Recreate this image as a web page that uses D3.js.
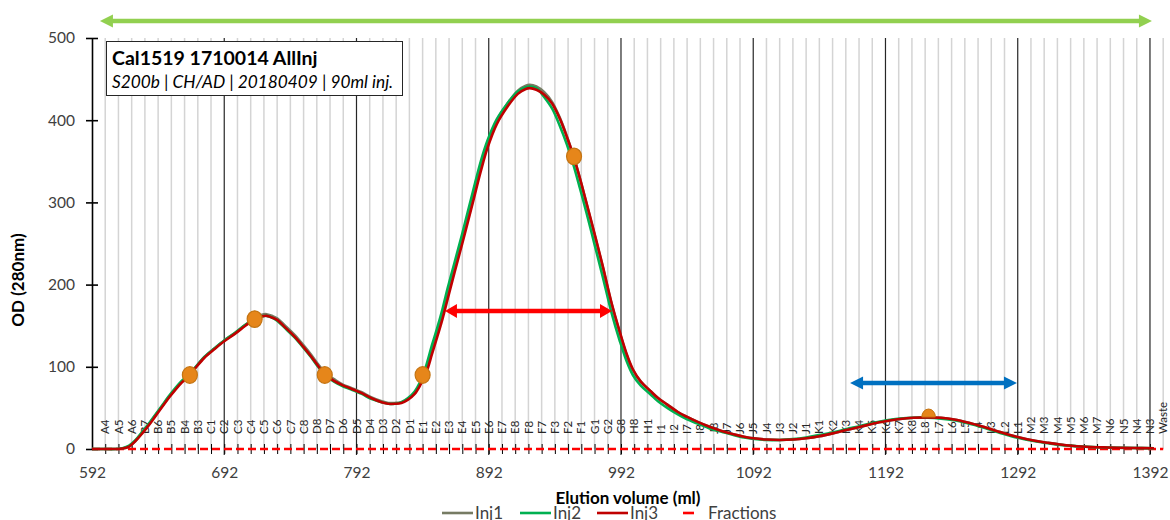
<!DOCTYPE html>
<html>
<head>
<meta charset="utf-8">
<script src="https://cdn.jsdelivr.net/npm/d3@7"></script>
<style>
  html, body { margin: 0; padding: 0; background: #fff; }
  svg { display: block; font-family: Lato, "Open Sans", sans-serif; }
</style>
</head>
<body>
<svg id="chart" width="1170" height="520"></svg>
<script>
// ---- data -------------------------------------------------------------
const titleMain = "Cal1519 1710014 AllInj";
const titleSub = "S200b | CH/AD | 20180409 | 90ml inj.";

const xTicks = [592, 692, 792, 892, 992, 1092, 1192, 1292, 1392];
const yTicks = [0, 100, 200, 300, 400, 500];

// collected fractions, 10 ml each, first one centred at 602 ml
const fractionLabels = ["A4","A5","A6","B7","B6","B5","B4","B3","C1","C2","C3","C4","C5","C6","C7","C8",
  "D8","D7","D6","D5","D4","D3","D2","D1","E1","E2","E3","E4","E5","E6","E7","E8",
  "F8","F7","F3","F2","F1","G1","G2","G8","H8","H1","I1","I2","I7","I8",
  "J8","J7","J6","J5","J4","J3","J2","J1","K1","K2","K3","K4","K5","K6","K7","K8",
  "L8","L7","L6","L5","L4","L3","L2","L1","M2","M3","M4","M5","M6","M7","N6","N5","N4","N3","Waste"];
const fractionFirst = 602;
const fractionSize = 10;

// elution volume (ml) of the sampled trace points
const volume = [592,600,610,615,620,625,630,635,640,645,650,655,660,666,670,677,685,692,700,708,715,720,724,728,732,738,745,752,758,763,768,775,781,790,796,803,811,816,821,826,831,836,840,845,849,853,857,861,866,872,880,886,891,898,906,914,920,923,928,934,940,946,951,956,961,966,972,978,985,991,996,1001,1007,1014,1020,1027,1035,1042,1050,1059,1068,1077,1085,1092,1102,1112,1122,1132,1142,1152,1162,1173,1183,1193,1203,1213,1224,1234,1244,1255,1266,1280,1291,1305,1315,1324,1340,1360,1380,1395];

const inj1 = [0,0,0,0.5,3,10,20,30,41,52,63,73,82,91,99,112,123,132,141,151,159,163,164,162,159,150,139,126,114,103,93,85,79,73,69,63,58,56,56,57,61,68,79,97,119,140,162,188,219,255,306,344,371,399,420,436,442,443,441,434,422,402,381,357,329,298,261,223,176,142,116,96,82,71,62,54,45,39,33,27,22,18,15,13,11.5,11,11.5,13,15.5,19,23,27,31,34,36.5,38,38.5,38,36,32,27,20,15,10,7.5,5.5,3,1.8,1.2,1];

const inj2 = [0,0,0,1,4,11,21,31,42,53,64,74,83,92,99,112,123,132,141,151,158,161,162,160,156,147,136,123,111,100,90,82,77,71,67,61,57,55,55,57,62,70,81,103,126,147,170,196,226,262,313,350,375,401,420,435,440,441,439,428,414,392,371,346,317,287,249,211,165,132,108,90,77,67,58,50,42,36,31,25,21,17,14,12.5,11,11,12,14,17,20,24,28,32,35,37,38,38,37,35,31,26,19,14,9.5,7,5,3,1.8,1.2,1];

const inj3 = [0,0,0,0.5,3,10,19,29,40,51,62,72,81,90,98,111,122,131,140,150,158,161,162,160,157,148,137,124,112,101,91,83,78,72,68,62,57,55,55,56,60,67,77,94,115,136,158,183,214,250,300,338,366,395,416,432,438,439,437,431,420,401,380,357,329,299,262,224,177,143,117,97,82,71,62,54,45,39,33,27,22,18,15,13,11.5,11,11.5,13,15.5,19,23,27,31,34,36.5,38,38.5,38,36,32,27,20,15,10,7.5,5.5,3,1.8,1.2,1];

const seriesNames = ["Inj1", "Inj2", "Inj3"];

// highlighted sample points [volume, OD]
const highlightVolume = [666, 715, 768, 842, 956.5, 1224.6];
const highlightOD = [90, 158, 90, 90, 356, 38.9];

// pooling ranges: [from ml, to ml, drawn at OD]
const poolAll = [598, 1393.5, 520.7];
const poolMain = [858.9, 985.2, 167.9];
const poolLate = [1165.2, 1291.4, 80.3];

// ---- layout & style ---------------------------------------------------
const seriesColors = ["#767b63", "#00b050", "#c00000"];
const fracColor = "#ff0000";
const textColor = "#404040";

const svg = d3.select("#chart");
const x = d3.scaleLinear().domain([592, 1402]).range([92, 1163.2]);
const y = d3.scaleLinear().domain([0, 500]).range([449, 38]);

// vertical grid: each fraction boundary light, every 100 ml dark
const grid = svg.append("g");
const fracCentres = fractionLabels.map((_, i) => fractionFirst + i * fractionSize);
grid.selectAll("line.minor")
  .data(fracCentres.filter(v => !xTicks.includes(v)))
  .join("line")
  .attr("x1", d => x(d)).attr("x2", d => x(d))
  .attr("y1", y(500)).attr("y2", y(0))
  .attr("stroke", "#d4d4d4").attr("stroke-width", 1.5);
grid.selectAll("line.major")
  .data(xTicks.slice(1))
  .join("line")
  .attr("x1", d => x(d)).attr("x2", d => x(d))
  .attr("y1", y(500)).attr("y2", y(0) + 6)
  .attr("stroke", "#262626").attr("stroke-width", 1.2);

// fraction labels (rotated)
svg.append("g").selectAll("text")
  .data(fractionLabels)
  .join("text")
  .attr("transform", (d, i) => `translate(${x(fracCentres[i])},434) rotate(-90)`)
  .attr("dy", "0.36em")
  .attr("font-size", 11.5)
  .attr("fill", "#262626")
  .text(d => d);

// y axis
const yAxis = svg.append("g")
  .attr("transform", `translate(${x(592)},0)`)
  .call(d3.axisLeft(y).tickValues(yTicks).tickSize(6).tickSizeOuter(0).tickPadding(11));
yAxis.select(".domain").attr("stroke", "#000").attr("stroke-width", 1.6);
yAxis.selectAll(".tick line").attr("x1", -6).attr("x2", 6).attr("stroke", "#000").attr("stroke-width", 1.6);
yAxis.selectAll(".tick text").attr("font-size", 15.5).attr("fill", textColor).attr("font-family", "Lato");

// x axis: cross ticks at each fraction boundary, labels every 100 ml
const xMinor = svg.append("g")
  .attr("transform", `translate(0,${y(0)})`)
  .call(d3.axisBottom(x).tickValues(fracCentres.filter(v => v <= 1392)).tickSize(5).tickFormat(""));
xMinor.select(".domain").remove();
xMinor.selectAll(".tick line").attr("y1", -5).attr("y2", 5).attr("stroke", "#000").attr("stroke-width", 1);

const xAxis = svg.append("g")
  .attr("transform", `translate(0,${y(0)})`)
  .call(d3.axisBottom(x).tickValues(xTicks).tickSize(0).tickPadding(18).tickFormat(d3.format("d")));
xAxis.select(".domain").remove();
xAxis.selectAll(".tick text").attr("font-size", 15.5).attr("fill", textColor).attr("font-family", "Lato");

// fractions series along the baseline
svg.append("line")
  .attr("x1", x(592)).attr("x2", x(1402))
  .attr("y1", y(0)).attr("y2", y(0))
  .attr("stroke", fracColor).attr("stroke-width", 2.5)
  .attr("stroke-dasharray", "8,4");

// traces
const line = d3.line()
  .x((d, i) => x(volume[i]))
  .y(d => y(d))
  .curve(d3.curveCatmullRom.alpha(0.5));
[inj1, inj2, inj3].forEach((s, k) => {
  svg.append("path")
    .attr("d", line(s))
    .attr("fill", "none")
    .attr("stroke", seriesColors[k])
    .attr("stroke-width", 2.6)
    .attr("stroke-linejoin", "round");
});

// highlighted points
const marks = svg.append("g");
highlightVolume.forEach((v, i) => {
  const cx = x(v), cy = y(highlightOD[i]);
  if (i === highlightVolume.length - 1) {
    // last one only shows its upper half above the trace
    marks.append("path")
      .attr("d", `M${cx - 6.8},${cy} A6.8,8 0 0 1 ${cx + 6.8},${cy} Z`)
      .attr("fill", "#e6861a").attr("stroke", "#c47412").attr("stroke-width", 1);
  } else {
    marks.append("ellipse")
      .attr("cx", cx).attr("cy", cy).attr("rx", 7.5).attr("ry", 8.3)
      .attr("fill", "#e6861a").attr("stroke", "#c47412").attr("stroke-width", 1.2);
  }
});

// double-headed range arrows
function rangeArrow(span, color, width, headLen, headHalf) {
  const x1 = x(span[0]), x2 = x(span[1]), yy = y(span[2]);
  const g = svg.append("g");
  g.append("line")
    .attr("x1", x1 + headLen - 1).attr("x2", x2 - headLen + 1)
    .attr("y1", yy).attr("y2", yy)
    .attr("stroke", color).attr("stroke-width", width);
  g.append("path")
    .attr("d", `M${x1},${yy} L${x1 + headLen},${yy - headHalf} L${x1 + headLen},${yy + headHalf} Z`)
    .attr("fill", color);
  g.append("path")
    .attr("d", `M${x2},${yy} L${x2 - headLen},${yy - headHalf} L${x2 - headLen},${yy + headHalf} Z`)
    .attr("fill", color);
}
rangeArrow(poolAll, "#92d050", 4.5, 13, 6.5);
rangeArrow(poolMain, "#ff0000", 4.5, 12, 7);
rangeArrow(poolLate, "#0070c0", 4.5, 13, 6.5);

// title box
const tb = svg.append("g");
tb.append("rect").attr("x", 106.5).attr("y", 41.5).attr("width", 296).attr("height", 54)
  .attr("fill", "#fff").attr("stroke", "#262626").attr("stroke-width", 1);
tb.append("text").attr("x", 112).attr("y", 65)
  .attr("font-size", 19.5).attr("font-weight", "bold").attr("fill", "#000")
  .text(titleMain);
tb.append("text").attr("x", 112).attr("y", 88)
  .attr("font-size", 17.3).attr("font-style", "italic").attr("fill", "#000")
  .text(titleSub);

// axis titles
svg.append("text")
  .attr("transform", "translate(18,280) rotate(-90)")
  .attr("text-anchor", "middle").attr("dy", "0.36em")
  .attr("font-size", 17).attr("font-weight", "bold").attr("fill", "#000")
  .text("OD (280nm)");
svg.append("text")
  .attr("x", 628).attr("y", 504)
  .attr("text-anchor", "middle")
  .attr("font-size", 17).attr("font-weight", "bold").attr("fill", "#000")
  .text("Elution volume (ml)");

// legend
const legend = svg.append("g");
const legendX = [442, 520, 597];
seriesNames.forEach((name, i) => {
  legend.append("line")
    .attr("x1", legendX[i]).attr("x2", legendX[i] + 31)
    .attr("y1", 513).attr("y2", 513)
    .attr("stroke", seriesColors[i]).attr("stroke-width", 2.6);
  legend.append("text")
    .attr("x", legendX[i] + 33).attr("y", 519)
    .attr("font-size", 17).attr("fill", textColor)
    .text(name);
});
legend.append("line")
  .attr("x1", 683).attr("x2", 694).attr("y1", 513).attr("y2", 513)
  .attr("stroke", fracColor).attr("stroke-width", 2.6);
legend.append("text")
  .attr("x", 708).attr("y", 519)
  .attr("font-size", 17).attr("fill", textColor)
  .text("Fractions");
</script>
</body>
</html>
